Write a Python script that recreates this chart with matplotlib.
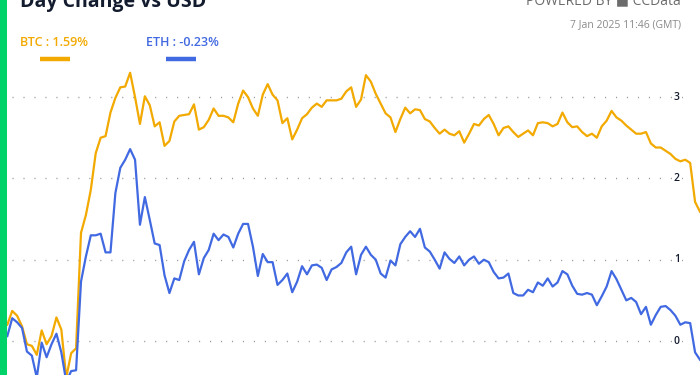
import matplotlib
matplotlib.use("Agg")
import matplotlib.pyplot as plt
import matplotlib.transforms as mtransforms
import numpy as np

btc = [0.20, 0.37, 0.31, 0.18, -0.04, -0.06, -0.17, 0.13, -0.04, 0.06, 0.29, 0.14, -0.45, -0.15, -0.09,
       1.33, 1.55, 1.86, 2.31, 2.50, 2.52, 2.81, 2.99, 3.12, 3.13, 3.30, 3.00, 2.67, 3.01, 2.90, 2.64, 2.69,
       2.40, 2.46,
       2.70, 2.77, 2.78, 2.79, 2.91, 2.60, 2.63, 2.72, 2.86, 2.77, 2.77, 2.75, 2.69, 2.92, 3.08, 3.00, 2.86,
       2.77, 3.03, 3.16, 3.03, 2.96, 2.68, 2.74, 2.48, 2.60, 2.74, 2.79, 2.87, 2.92, 2.88, 2.96, 2.96, 2.96,
       2.98,
       3.07, 3.12, 2.88, 2.97, 3.27, 3.19, 3.04, 2.92, 2.80, 2.75, 2.57, 2.73, 2.87, 2.80, 2.85, 2.84, 2.73,
       2.70, 2.62, 2.55, 2.60, 2.55, 2.53, 2.58, 2.44, 2.55, 2.67, 2.65, 2.73, 2.78, 2.67, 2.53, 2.62, 2.64,
       2.57,
       2.51, 2.55, 2.59, 2.53, 2.68, 2.69, 2.68, 2.64, 2.67, 2.81, 2.69, 2.63, 2.64, 2.57, 2.52, 2.55, 2.50,
       2.64, 2.71, 2.83, 2.75, 2.71, 2.65, 2.60, 2.55, 2.55, 2.57, 2.43, 2.38, 2.38, 2.34, 2.30, 2.24, 2.21,
       2.23, 2.19, 1.71, 1.59]

eth = [0.06, 0.28, 0.23, 0.16, -0.13, -0.18, -0.45, -0.02, -0.20, -0.04, 0.09, -0.14, -0.50, -0.37, -0.36,
       0.73, 1.04, 1.30, 1.30, 1.32, 1.09, 1.09, 1.82, 2.13, 2.23, 2.36, 2.23, 1.43, 1.77, 1.49, 1.20, 1.18,
       0.81, 0.59,
       0.77, 0.75, 0.98, 1.12, 1.22, 0.82, 1.02, 1.12, 1.32, 1.24, 1.31, 1.28, 1.15, 1.32, 1.44, 1.44, 1.16,
       0.80, 1.07, 0.97, 0.97, 0.69, 0.75, 0.83, 0.60, 0.73, 0.92, 0.82, 0.93, 0.94, 0.90, 0.75, 0.88, 0.91,
       0.96,
       1.09, 1.16, 0.82, 1.06, 1.16, 1.06, 1.00, 0.83, 0.78, 0.99, 0.93, 1.19, 1.28, 1.35, 1.28, 1.38, 1.15,
       1.10, 1.00, 0.89, 1.09, 1.01, 0.96, 1.04, 0.93, 1.00, 1.04, 0.95, 1.00, 0.97, 0.85, 0.77, 0.78, 0.83,
       0.59,
       0.56, 0.56, 0.63, 0.60, 0.72, 0.68, 0.77, 0.67, 0.72, 0.86, 0.82, 0.68, 0.58, 0.57, 0.59, 0.57, 0.44,
       0.55, 0.67, 0.86, 0.76, 0.63, 0.50, 0.53, 0.48, 0.33, 0.42, 0.20, 0.32, 0.42, 0.43, 0.38, 0.31, 0.20,
       0.23, 0.22, -0.14, -0.23]

series_names = ["BTC", "ETH"]
final_labels = ["BTC : 1.59%", "ETH : -0.23%"]
yticks = [0, 1, 2, 3]
title = "Day Change vs USD"
powered = "POWERED BY \u25A0 CCData"
stamp = "7 Jan 2025 11:46 (GMT)"

ORANGE = "#F2A900"
BLUE = "#4169E1"
GREEN = "#00D26A"
NAVY = "#131c2e"
FAM = ["Open Sans", "DejaVu Sans"]

W, H = 700, 375
fig = plt.figure(figsize=(7, 3.75), dpi=100)
fig.patch.set_facecolor("white")

def fx(px):
    return px / W

def fy(py):
    return 1 - py / H

y0_px, unit_px = 341.0, 81.3
top_px = 50
ax = fig.add_axes([fx(7.3), 0, 1 - fx(7.3), (H - top_px) / H])
n = len(btc)
x = np.arange(n)
ax.set_xlim(0, n - 1)
ax.set_ylim((y0_px - H) / unit_px, (y0_px - top_px) / unit_px)
ax.axis("off")

x0f = (11.7 - 7.3) / (W - 7.3)
x1f = (691 - 7.3) / (W - 7.3)
for v in yticks:
    ax.axhline(v, xmin=x0f, xmax=x1f, color="#9a9a9a", lw=1.0,
               linestyle=(0, (0.8, 7.1)), zorder=1)

trans = mtransforms.blended_transform_factory(ax.transAxes, ax.transData)
for v in yticks:
    ax.text((677 - 7.3) / (W - 7.3), v, str(v), transform=trans, ha="center", va="center",
            fontsize=7.5, fontweight="semibold", color=NAVY, family=FAM,
            bbox=dict(facecolor="white", edgecolor="none", pad=1.5), zorder=2)

ax.plot(x, btc, color=ORANGE, lw=1.6, zorder=3, solid_joinstyle="round")
ax.plot(x, eth, color=BLUE, lw=1.6, zorder=4, solid_joinstyle="round")

fig.patches.append(plt.Rectangle((0, 0), fx(7), 1, transform=fig.transFigure,
                                 facecolor=GREEN, edgecolor="none", zorder=10))

fig.text(fx(20), fy(7.5), title, ha="left", va="baseline", fontsize=14, fontweight="bold",
         color=NAVY, family=FAM)
fig.text(fx(681), fy(4), powered, ha="right", va="baseline", fontsize=10, color="#6b6b6b",
         family=FAM)
fig.text(fx(681), fy(27.5), stamp, ha="right", va="baseline", fontsize=7.5, color="#8a8a8a",
         family=FAM)

leg_text_x = [20, 146]
leg_line_x = [(40, 70), (166, 196)]
for lbl, col, tx, (l0, l1) in zip(final_labels, [ORANGE, BLUE], leg_text_x, leg_line_x):
    fig.text(fx(tx), fy(45.5), lbl, ha="left", va="baseline", fontsize=9, fontweight="semibold",
             color=col, family=FAM)
    fig.lines.append(plt.Line2D([fx(l0), fx(l1)], [fy(59), fy(59)], transform=fig.transFigure,
                                color=col, lw=3.2, solid_capstyle="butt"))

fig.savefig("out.png", dpi=100)
